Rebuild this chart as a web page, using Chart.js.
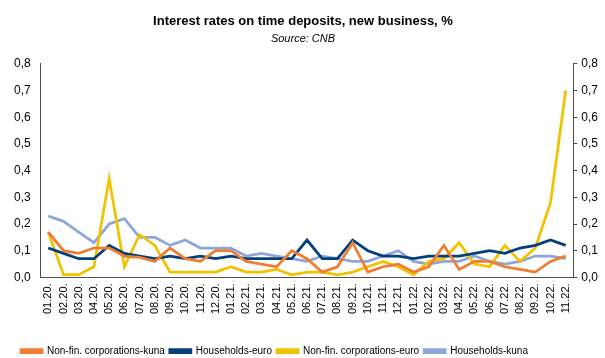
<!DOCTYPE html>
<html>
<head>
<meta charset="utf-8">
<script src="https://cdn.jsdelivr.net/npm/chart.js@4/dist/chart.umd.min.js"></script>
<style>
  html, body { margin: 0; padding: 0; background: #fff; }
  #wrap { width: 605px; height: 358px; }
</style>
</head>
<body>
<div id="wrap"><canvas id="rates" width="605" height="358"></canvas></div>
<script>
// months 01.20 - 11.22
var meseci = ["01.20.","02.20.","03.20.","04.20.","05.20.","06.20.","07.20.","08.20.","09.20.","10.20.","11.20.","12.20.",
              "01.21.","02.21.","03.21.","04.21.","05.21.","06.21.","07.21.","08.21.","09.21.","10.21.","11.21.","12.21.",
              "01.22.","02.22.","03.22.","04.22.","05.22.","06.22.","07.22.","08.22.","09.22.","10.22.","11.22."]

var nfcKuna = [0.17,0.10,0.09,0.11,0.11,0.08,0.075,0.06,0.11,0.07,0.06,0.10,
               0.10,0.06,0.05,0.04,0.10,0.07,0.02,0.04,0.13,0.02,0.04,0.05,
               0.02,0.04,0.12,0.03,0.06,0.06,0.04,0.03,0.02,0.06,0.08]

var hhEuro = [0.11,0.09,0.07,0.07,0.12,0.09,0.08,0.07,0.08,0.07,0.08,0.07,
              0.08,0.07,0.07,0.07,0.07,0.14,0.07,0.07,0.14,0.10,0.08,0.08,
              0.07,0.08,0.08,0.08,0.09,0.10,0.09,0.11,0.12,0.14,0.12]

var nfcEuro = [0.17,0.01,0.01,0.04,0.37,0.04,0.16,0.12,0.02,0.02,0.02,0.02,
               0.04,0.02,0.02,0.03,0.01,0.02,0.02,0.01,0.02,0.04,0.06,0.04,
               0.01,0.06,0.07,0.13,0.05,0.04,0.12,0.06,0.11,0.28,0.70]

var hhKuna = [0.23,0.21,0.17,0.13,0.20,0.22,0.15,0.15,0.12,0.14,0.11,0.11,
              0.11,0.08,0.09,0.08,0.07,0.06,0.08,0.07,0.06,0.06,0.08,0.10,
              0.06,0.05,0.06,0.06,0.08,0.06,0.05,0.06,0.08,0.08,0.07]

var yTicks = [0,0.1,0.2,0.3,0.4,0.5,0.6,0.7,0.8]

var font = "'Liberation Sans', Arial, sans-serif"
var axisColor = '#4d4d4d'

function serija(label, data, color) {
  return {
    label: label,
    data: data,
    borderColor: color,
    backgroundColor: color,
    borderWidth: 2.75,
    pointRadius: 0,
    tension: 0,
    yAxisID: 'y'
  }
}

function yOsa(pos, crtice) {
  return {
    position: pos,
    min: 0,
    max: 0.8,
    afterBuildTicks: function(axis) {
      axis.ticks = yTicks.map(function(v) { return { value: v } })
    },
    grid: { drawOnChartArea: false, drawTicks: crtice, tickLength: 4, color: axisColor },
    border: { display: true, color: axisColor, width: 1 },
    ticks: {
      color: '#000',
      font: { family: font, size: 12 },
      padding: crtice ? 4 : 10,
      callback: function(v) { return v.toFixed(1).replace('.', ',') }
    }
  }
}

// pomak legende: malo udesno i prema dnu
var legendaPomak = {
  id: 'legendaPomak',
  afterLayout: function(chart) {
    var l = chart.legend
    l.left += 12; l.right += 12
    l.top += 8; l.bottom += 8
  }
}

var ctx = document.getElementById('rates').getContext('2d')
var grafikon = new Chart(ctx, {
  type: 'line',
  data: {
    labels: meseci,
    datasets: [
      serija('Non-fin. corporations-kuna', nfcKuna, '#EF7D32'),
      serija('Households-euro', hhEuro, '#053F7A'),
      serija('Non-fin. corporations-euro', nfcEuro, '#F2C200'),
      serija('Households-kuna', hhKuna, '#8DA6D8')
    ]
  },
  plugins: [legendaPomak],
  options: {
    responsive: false,
    animation: false,
    layout: { padding: { left: 4, right: 3, top: 0, bottom: 0 } },
    plugins: {
      title: {
        display: true,
        text: 'Interest rates on time deposits, new business, %',
        color: '#000',
        font: { family: font, size: 13, weight: 'bold' },
        padding: { top: 14, bottom: 3 }
      },
      subtitle: {
        display: true,
        text: 'Source: CNB',
        color: '#000',
        font: { family: font, size: 11, style: 'italic' },
        padding: { bottom: 18 }
      },
      legend: {
        position: 'bottom',
        align: 'start',
        labels: {
          color: '#000',
          font: { family: font, size: 10 },
          boxWidth: 21,
          boxHeight: 3,
          padding: 5
        }
      },
      tooltip: { enabled: false }
    },
    scales: {
      x: {
        offset: true,
        afterFit: function(scale) { scale.height += 13 },
        grid: { drawOnChartArea: false, drawTicks: false, color: axisColor },
        border: { display: true, color: axisColor, width: 1 },
        ticks: {
          color: '#000',
          font: { family: font, size: 11 },
          maxRotation: 90,
          minRotation: 90,
          autoSkip: false,
          padding: 6
        }
      },
      y: yOsa('left', false),
      y2: yOsa('right', true)
    }
  }
})
</script>
</body>
</html>
